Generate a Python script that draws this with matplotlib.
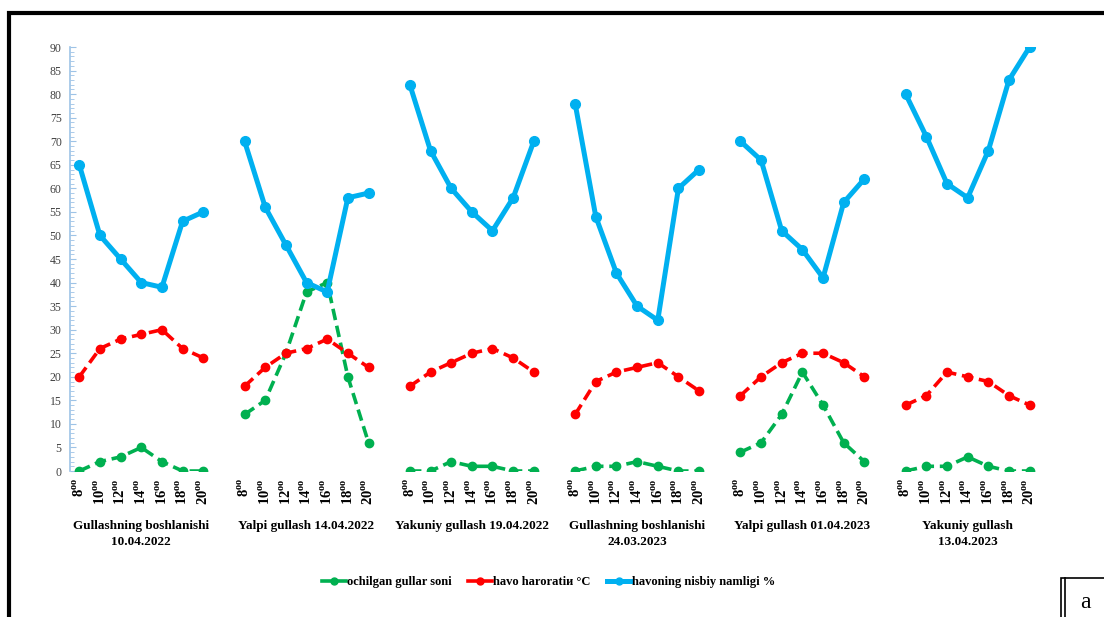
import numpy as np
import matplotlib
matplotlib.use("Agg")
import matplotlib.pyplot as plt
from matplotlib.lines import Line2D
from matplotlib.patches import Rectangle
from matplotlib.ticker import MultipleLocator

plt.rcParams['font.family'] = ['Liberation Serif', 'DejaVu Serif']
plt.rcParams['mathtext.fontset'] = 'custom'
plt.rcParams['mathtext.rm'] = 'Liberation Serif:bold'
plt.rcParams['mathtext.bf'] = 'Liberation Serif:bold'

hours = ["8", "10", "12", "14", "16", "18", "20"]
groups = [
    "Gullashning boshlanishi\n10.04.2022",
    "Yalpi gullash 14.04.2022",
    "Yakuniy gullash 19.04.2022",
    "Gullashning boshlanishi\n24.03.2023",
    "Yalpi gullash 01.04.2023",
    "Yakuniy gullash\n13.04.2023",
]

# number of opened flowers
flowers = [
    [0, 2, 3, 5, 2, 0, 0],
    [12, 15, 25, 38, 40, 20, 6],
    [0, 0, 2, 1, 1, 0, 0],
    [0, 1, 1, 2, 1, 0, 0],
    [4, 6, 12, 21, 14, 6, 2],
    [0, 1, 1, 3, 1, 0, 0],
]
# air temperature, °C
temperature = [
    [20, 26, 28, 29, 30, 26, 24],
    [18, 22, 25, 26, 28, 25, 22],
    [18, 21, 23, 25, 26, 24, 21],
    [12, 19, 21, 22, 23, 20, 17],
    [16, 20, 23, 25, 25, 23, 20],
    [14, 16, 21, 20, 19, 16, 14],
]
# relative air humidity, %
humidity = [
    [65, 50, 45, 40, 39, 53, 55],
    [70, 56, 48, 40, 38, 58, 59],
    [82, 68, 60, 55, 51, 58, 70],
    [78, 54, 42, 35, 32, 60, 64],
    [70, 66, 51, 47, 41, 57, 62],
    [80, 71, 61, 58, 68, 83, 90],
]

labels = ["ochilgan gullar soni", "havo harorati\u0438 °C", "havoning nisbiy namligi %"]
GREEN = "#00b050"
RED = "#ff0000"
BLUE = "#00b0f0"
AXIS = "#9dc3e6"

fig = plt.figure(figsize=(11.04, 6.17), dpi=100)
ax = fig.add_axes([0.0634, 0.2366, 0.8786, 0.6872])

n = len(hours)
step = n + 1
xticks, xlabels = [], []
for g in range(len(groups)):
    xs = np.arange(n) + g * step
    xticks.extend(xs)
    xlabels.extend([rf"{h}$^{{\mathrm{{oo}}}}$" for h in hours])
    ax.plot(xs, flowers[g], color=GREEN, lw=2.6, ls=(0, (3.2, 1.6)),
            marker="o", ms=6, zorder=3)
    ax.plot(xs, temperature[g], color=RED, lw=2.6, ls=(0, (3.2, 1.6)),
            marker="o", ms=6, zorder=3)
    ax.plot(xs, humidity[g], color=BLUE, lw=3.6, marker="o", ms=7, zorder=4)
    ax.text(xs.mean(), -10.4, groups[g], ha="center", va="top",
            fontsize=9.5, fontweight="bold", linespacing=1.45)

ax.set_xlim(-0.45, (len(groups) - 1) * step + n - 0.5)
ax.set_ylim(0, 90)
ax.set_xticks(xticks)
ax.set_xticklabels(xlabels, rotation=90, fontsize=10.5, fontweight="bold")
ax.tick_params(axis="x", length=0, pad=5)
ax.yaxis.set_major_locator(MultipleLocator(5))
ax.yaxis.set_minor_locator(MultipleLocator(1))
ax.tick_params(axis="y", which="major", direction="in", length=4, color=AXIS,
               labelsize=8.5, labelcolor="#404040", pad=6)
ax.tick_params(axis="y", which="minor", direction="in", length=3, color=AXIS)
for s in ["top", "right", "bottom"]:
    ax.spines[s].set_visible(False)
ax.spines["left"].set_color(AXIS)
ax.spines["left"].set_linewidth(1.2)

handles = [
    Line2D([], [], color=GREEN, lw=2.6, marker="o", ms=5),
    Line2D([], [], color=RED, lw=2.6, marker="o", ms=5),
    Line2D([], [], color=BLUE, lw=3.6, marker="o", ms=5),
]
fig.legend(handles, labels, loc="center", bbox_to_anchor=(0.497, 0.056),
           ncol=3, frameon=False, handlelength=1.9, handletextpad=0.1,
           columnspacing=1.3, prop={"weight": "bold", "size": 9})

# outer frame
fig.patches.append(Rectangle((9 / 1104, -0.1), 1.2, 1.1 - 13 / 617,
                             transform=fig.transFigure, fill=False,
                             edgecolor="black", lw=3, zorder=10))
# panel letter box
fig.patches.append(Rectangle((1061 / 1104, -0.1), 0.2, 0.1 + 39 / 617,
                             transform=fig.transFigure, fill=False,
                             edgecolor="black", lw=1.2, zorder=10))
fig.lines.append(Line2D([1064.5 / 1104, 1064.5 / 1104], [0, 39 / 617],
                        transform=fig.transFigure, color="black", lw=1.2))
fig.text(1085 / 1104, 15 / 617, "a", ha="center", va="center", fontsize=17)

fig.savefig("out.png", dpi=100)
